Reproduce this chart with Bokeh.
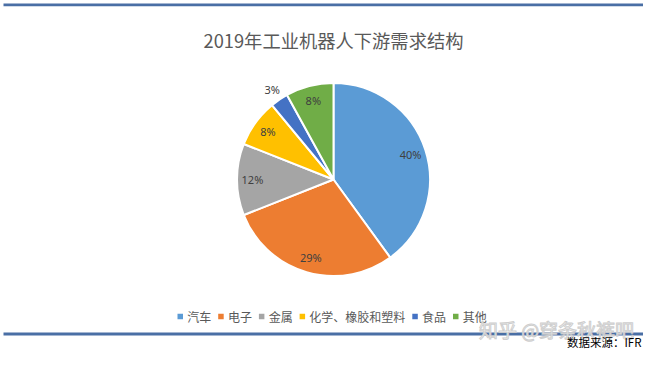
import numpy as np
from bokeh.plotting import figure
from bokeh.models import Range1d, ColumnDataSource
from bokeh.core.properties import value
from bokeh.embed import file_html
from bokeh.resources import INLINE

# ---- data ----
title_text = "2019年工业机器人下游需求结构"
categories = ["汽车", "电子", "金属", "化学、橡胶和塑料", "食品", "其他"]
shares = [40, 29, 12, 8, 3, 8]
labels = ["40%", "29%", "12%", "8%", "3%", "8%"]
colors = ["#5B9BD5", "#ED7D31", "#A5A5A5", "#FFC000", "#4472C4", "#70AD47"]
source_note = "数据来源：IFR"
watermark = "知乎 @穿条秋裤吧"

W, H = 643, 349
CJK = value("Noto Sans CJK SC")

p = figure(width=W, height=H, output_backend="svg", toolbar_location=None,
           x_range=Range1d(0, W), y_range=Range1d(0, H), min_border=0)
p.axis.visible = False
p.grid.visible = False
p.outline_line_color = None
p.background_fill_color = "white"
p.border_fill_color = "white"

# pie geometry (screen px == data units)
cx, cy, R = 333.0, 170.0, 96.5
vals = np.array(shares, dtype=float)
frac = vals / vals.sum()
cum = np.cumsum(frac)
prev = np.concatenate([[0.0], cum[:-1]])
start = np.pi / 2 - 2 * np.pi * prev
end = np.pi / 2 - 2 * np.pi * cum
mid = (start + end) / 2

src = ColumnDataSource(dict(x=[cx] * len(vals), y=[cy] * len(vals), start=start, end=end,
                            color=colors, cat=categories))
p.wedge(x="x", y="y", radius=R, start_angle="start", end_angle="end", direction="clock",
        fill_color="color", line_color="white", line_width=2, source=src)

# data labels
lr = np.where(frac < 0.05, 1.13 * R, 0.84 * R)
lx = cx + lr * np.cos(mid)
ly = cy + lr * np.sin(mid)
p.text(x=lx, y=ly, text=labels, text_align="center", text_baseline="middle",
       text_font=value("Noto Sans"), text_font_size="11px", text_color="#404040")

# title
p.text(x=[cx], y=[310], text=[title_text], text_align="center", text_baseline="middle",
       text_font=CJK, text_font_size="18.3px", text_color="#595959")

# legend (manual, centred under the pie)
fs = 12
marker_to_text, text_to_marker, msz = 7.0, 9.7, 5.5
widths = [len(c) * fs for c in categories]
span = sum(widths) + marker_to_text * len(widths) + text_to_marker * (len(widths) - 1)
x0 = cx - span / 2
mxs, txs = [], []
xc = x0
for w in widths:
    mxs.append(xc)
    txs.append(xc + marker_to_text)
    xc = xc + marker_to_text + w + text_to_marker
ly_leg = 33
p.rect(x=mxs, y=[ly_leg] * len(mxs), width=msz, height=msz, fill_color=colors, line_color=None)
p.text(x=txs, y=[ly_leg] * len(txs), text=categories, text_align="left", text_baseline="middle",
       text_font=CJK, text_font_size=f"{fs}px", text_color="#595959")

# decorative rules
p.quad(left=[3], right=[W], bottom=[343.3], top=[346], fill_color="#4A6FA5", line_color=None)
p.quad(left=[3], right=[W], bottom=[14], top=[17], fill_color="#4A6FA5", line_color=None)

# watermark
p.text(x=[556], y=[20], text=[watermark], text_align="center", text_baseline="middle",
       text_font=CJK, text_font_size="19px", text_color="#FFFFFF", text_alpha=0.9,
       text_outline_color="#C8C8C8")

# source note
p.text(x=[641], y=[7.5], text=[source_note], text_align="right", text_baseline="middle",
       text_font=CJK, text_font_size="11.5px", text_color="#000000")

open("out.html", "w").write(file_html(p, INLINE))
